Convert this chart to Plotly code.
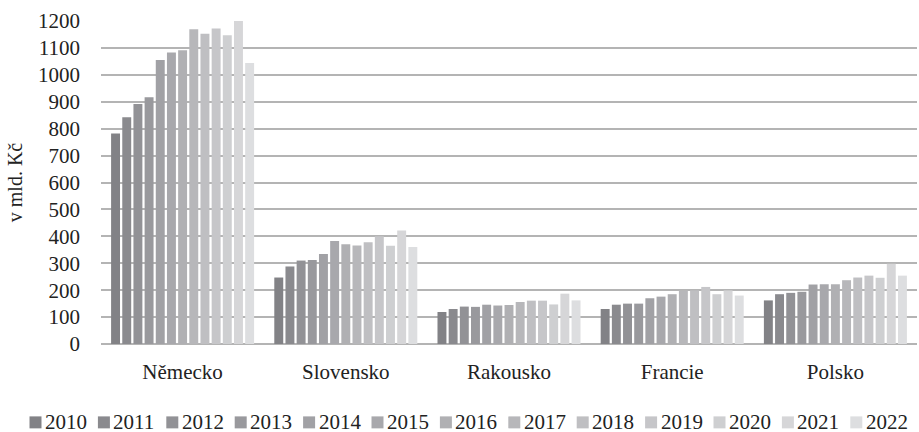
import plotly.graph_objects as go

countries = ["Německo", "Slovensko", "Rakousko", "Francie", "Polsko"]
years = ["2010", "2011", "2012", "2013", "2014", "2015", "2016",
         "2017", "2018", "2019", "2020", "2021", "2022"]

# values in bn CZK, one list per year: [Německo, Slovensko, Rakousko, Francie, Polsko]
v2010 = [782, 247, 119, 130, 162]
v2011 = [842, 288, 130, 146, 185]
v2012 = [892, 310, 139, 150, 190]
v2013 = [917, 312, 138, 150, 194]
v2014 = [1055, 334, 146, 170, 221]
v2015 = [1083, 383, 143, 176, 222]
v2016 = [1091, 371, 145, 185, 222]
v2017 = [1169, 366, 156, 199, 237]
v2018 = [1153, 378, 161, 199, 247]
v2019 = [1172, 400, 161, 212, 254]
v2020 = [1147, 365, 147, 185, 246]
v2021 = [1200, 422, 187, 199, 298]
v2022 = [1044, 360, 162, 180, 254]

series = [v2010, v2011, v2012, v2013, v2014, v2015, v2016,
          v2017, v2018, v2019, v2020, v2021, v2022]

colors = ["#828286", "#8a8a8e", "#929296", "#99999d", "#a1a1a5", "#a8a8ac",
          "#b0b0b3", "#b7b7ba", "#bfbfc2", "#c6c6c9", "#cecfd1", "#d6d6d8",
          "#dddee0"]

FONT = "Liberation Serif"
TEXT = "#222222"
W, H = 919, 432
ML, MR, MT, MB = 101, 2, 21, 87.5
PW, PH = W - ML - MR, H - MT - MB


def px_x(px):
    return (px - ML) / PW


def px_y(py):
    return (H - MB - py) / PH


fig = go.Figure()
for yr, vals, col in zip(years, series, colors):
    fig.add_trace(go.Bar(name=yr, x=countries, y=vals, marker_color=col,
                         marker_line_width=0, showlegend=False))

# legend row below the plot: colour square + year label per series
shapes, annotations = [], []
step, x0, sq = 68.4, 29.5, 12
for i, (yr, col) in enumerate(zip(years, colors)):
    left = x0 + i * step
    shapes.append(dict(type="rect", xref="paper", yref="paper",
                       x0=px_x(left), x1=px_x(left + sq),
                       y0=px_y(429), y1=px_y(417),
                       fillcolor=col, line_width=0))
    annotations.append(dict(text=yr, xref="paper", yref="paper",
                            x=px_x(left + sq + 2.5), y=px_y(422),
                            xanchor="left", yanchor="middle", showarrow=False,
                            height=19, valign="middle", borderpad=0,
                            font=dict(family=FONT, size=21, color=TEXT)))

fig.update_layout(
    width=W, height=H,
    margin=dict(l=ML, r=MR, t=MT, b=MB),
    paper_bgcolor="white", plot_bgcolor="white",
    barmode="group", bargap=0.11, bargroupgap=0.2,
    font=dict(family=FONT, size=21, color=TEXT),
    shapes=shapes, annotations=annotations,
)
fig.update_yaxes(range=[0, 1200], dtick=100, showgrid=True,
                 gridcolor="#b4b4b4", gridwidth=1.5,
                 zeroline=True, zerolinecolor="#b4b4b4", zerolinewidth=1.5,
                 ticks="", ticklabelstandoff=20,
                 title=dict(text="v mld. Kč", standoff=10,
                            font=dict(family=FONT, size=20)))
fig.update_xaxes(showline=False, ticks="", ticklabelstandoff=13)

fig.write_html("out.html")
